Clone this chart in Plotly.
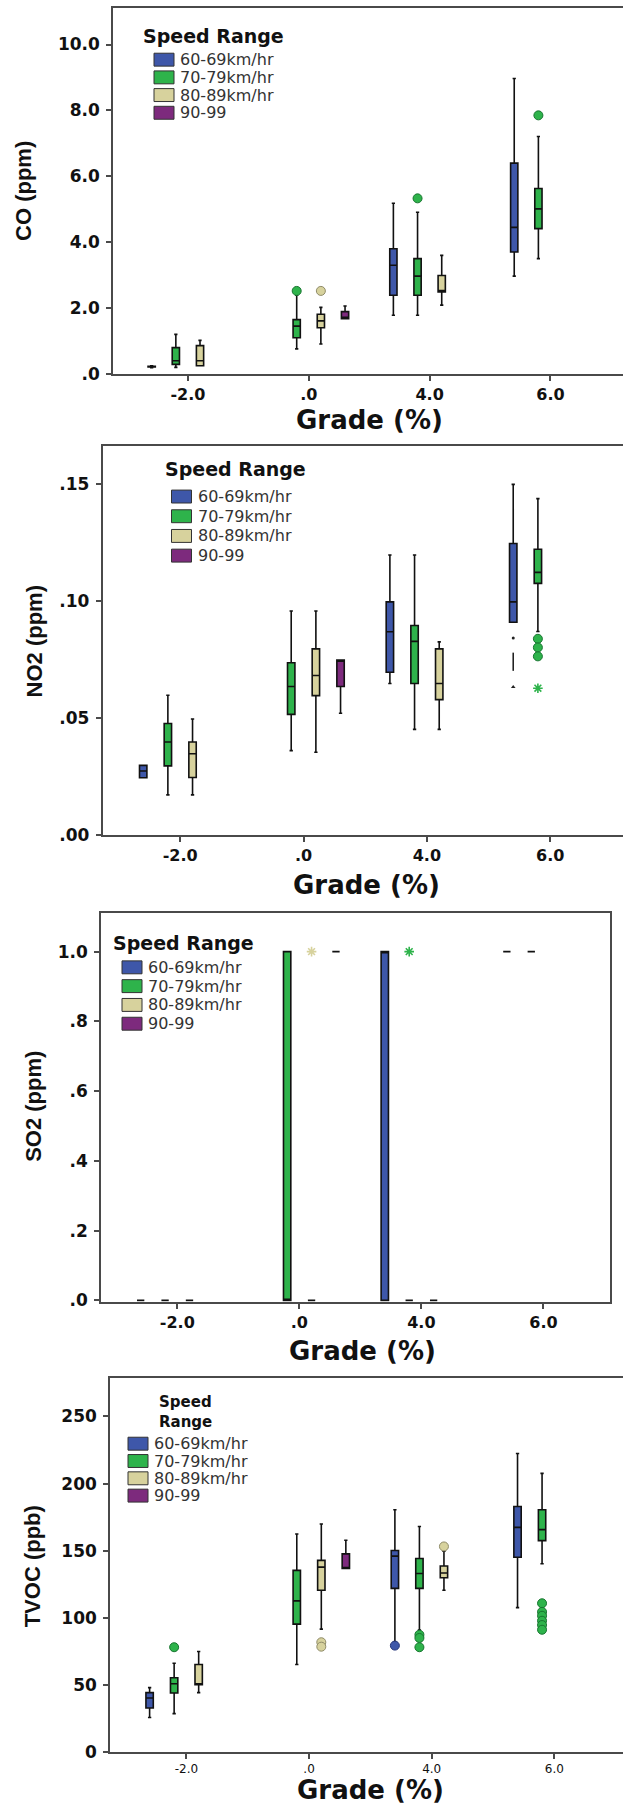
import plotly.graph_objects as go

# ---------------- data ----------------
grades = ["-2.0", ".0", "4.0", "6.0"]
speeds = ["60-69km/hr", "70-79km/hr", "80-89km/hr", "90-99"]
N = None

# rows = speed range (60-69, 70-79, 80-89, 90-99), columns = grade (-2, 0, 4, 6)
co_lo  = [[0.19, N, 1.78, 2.97], [0.20, 0.76, 1.78, 3.50], [0.25, 0.91, 2.09, N], [N, 1.68, N, N]]
co_q1  = [[0.21, N, 2.39, 3.70], [0.29, 1.10, 2.39, 4.41], [0.25, 1.40, 2.49, N], [N, 1.68, N, N]]
co_med = [[0.22, N, 3.30, 4.45], [0.40, 1.45, 2.97, 5.01], [0.40, 1.61, 2.53, N], [N, 1.72, N, N]]
co_q3  = [[0.23, N, 3.80, 6.40], [0.80, 1.65, 3.50, 5.63], [0.86, 1.81, 2.99, N], [N, 1.89, N, N]]
co_hi  = [[0.25, N, 5.18, 8.97], [1.20, 2.39, 4.91, 7.21], [1.02, 2.02, 3.60, N], [N, 2.06, N, N]]
co_out = [(1, 1, 2.52, "o"), (2, 1, 2.52, "o"), (1, 2, 5.33, "o"), (1, 3, 7.85, "o")]

no2_lo  = [[0.0246, N, 0.0649, 0.0911], [0.0173, 0.0362, 0.0453, 0.0871], [0.0173, 0.0355, 0.0453, N], [N, 0.0522, N, N]]
no2_q1  = [[0.0246, N, 0.0697, 0.0911], [0.0297, 0.0517, 0.0649, 0.1077], [0.0247, 0.0597, 0.0580, N], [N, 0.0636, N, N]]
no2_med = [[0.0275, N, 0.0870, 0.0998], [0.0399, 0.0636, 0.0829, 0.1124], [0.0349, 0.0683, 0.0649, N], [N, 0.0749, N, N]]
no2_q3  = [[0.0299, N, 0.0998, 0.1247], [0.0478, 0.0738, 0.0897, 0.1223], [0.0399, 0.0797, 0.0797, N], [N, 0.0749, N, N]]
no2_hi  = [[0.0299, N, 0.1198, 0.1500], [0.0599, 0.0959, 0.1198, 0.1439], [0.0497, 0.0959, 0.0827, N], [N, 0.0749, N, N]]
no2_out = [(1, 3, 0.0840, "o"), (1, 3, 0.0803, "o"), (1, 3, 0.0765, "o"), (1, 3, 0.0629, "star"),
           (0, 3, 0.0844, "dot"), (0, 3, 0.0742, "bar"), (0, 3, 0.0634, "tri")]

so2_lo  = [[0, N, 0, 1], [0, 0, 0, 1], [0, 0, 0, N], [N, 1, N, N]]
so2_q1  = [[0, N, 0, 1], [0, 0, 0, 1], [0, 0, 0, N], [N, 1, N, N]]
so2_med = [[0, N, 1, 1], [0, 0, 0, 1], [0, 0, 0, N], [N, 1, N, N]]
so2_q3  = [[0, N, 1, 1], [0, 1, 0, 1], [0, 0, 0, N], [N, 1, N, N]]
so2_hi  = [[0, N, 1, 1], [0, 1, 0, 1], [0, 0, 0, N], [N, 1, N, N]]
so2_out = [(2, 1, 1.0, "star"), (1, 2, 1.0, "star")]

tvoc_lo  = [[25.9, N, 82.0, 107.7], [28.8, 65.3, 91.0, 140.3], [44.4, 91.7, 120.6, N], [N, 136.8, N, N]]
tvoc_q1  = [[33.0, N, 122.0, 145.2], [44.1, 95.4, 122.0, 157.5], [50.3, 120.6, 129.9, N], [N, 136.8, N, N]]
tvoc_med = [[40.4, N, 146.0, 167.4], [51.0, 112.7, 133.1, 165.7], [51.0, 137.8, 133.4, N], [N, 137.3, N, N]]
tvoc_q3  = [[44.4, N, 150.2, 182.9], [55.5, 135.4, 144.2, 180.5], [65.3, 142.8, 138.6, N], [N, 147.7, N, N]]
tvoc_hi  = [[48.1, N, 180.5, 222.4], [66.3, 162.5, 168.1, 207.6], [75.0, 169.9, 149.7, N], [N, 157.8, N, N]]
tvoc_out = [(1, 0, 78.2, "o"), (2, 1, 81.9, "o"), (2, 1, 78.6, "o"), (0, 2, 79.4, "o"),
            (1, 2, 87.5, "o"), (1, 2, 85.1, "o"), (1, 2, 78.2, "o"), (2, 2, 153.2, "o"),
            (1, 3, 110.9, "o"), (1, 3, 104.5, "o"), (1, 3, 101.6, "o"), (1, 3, 97.9, "o"),
            (1, 3, 94.7, "o"), (1, 3, 91.2, "o")]

co_ticks = [0, 2, 4, 6, 8, 10]
co_ticktext = [".0", "2.0", "4.0", "6.0", "8.0", "10.0"]
no2_ticks = [0, 0.05, 0.10, 0.15]
no2_ticktext = [".00", ".05", ".10", ".15"]
so2_ticks = [0, 0.2, 0.4, 0.6, 0.8, 1.0]
so2_ticktext = [".0", ".2", ".4", ".6", ".8", "1.0"]
tvoc_ticks = [0, 50, 100, 150, 200, 250]
tvoc_ticktext = ["0", "50", "100", "150", "200", "250"]

# ---------------- styling ----------------
W, H = 623, 1814
fills = ["#3E57A9", "#2EB34B", "#D7D29D", "#7D2A7D"]
edge = ["#24357a", "#187530", "#8f8b68", "#4d1a4d"]
AX = "#4a4a4a"
FONT = "DejaVu Sans"
TFONT = "Liberation Sans"
SLOT = 0.2     # spacing of the speed-range slots inside a grade group
BOXW = 0.06


def px(x):
    return x / W


def py(y):
    return 1 - y / H


panels = [
    dict(title="CO (ppm)", lo=co_lo, q1=co_q1, med=co_med, q3=co_q3, hi=co_hi, out=co_out,
         ticks=co_ticks, ticktext=co_ticktext,
         box=(113, 623, 8, 376), xr=[-0.62, 3.60], yr=[0, 11.11], mirror_y=False,
         ytitle=(24, 192), xtitle=(369, 422), leg_title=("Speed Range", 141, 36, 19),
         leg=(154, 60, 17.8), xfont=16),
    dict(title="NO2 (ppm)", lo=no2_lo, q1=no2_q1, med=no2_med, q3=no2_q3, hi=no2_hi, out=no2_out,
         ticks=no2_ticks, ticktext=no2_ticktext,
         box=(102.5, 623, 448, 840), xr=[-0.63, 3.59], yr=[0, 0.1666], mirror_y=False,
         ytitle=(34, 645), xtitle=(366, 890), leg_title=("Speed Range", 163, 472, 19),
         leg=(171.5, 499.3, 19.8), xfont=16),
    dict(title="SO2 (ppm)", lo=so2_lo, q1=so2_q1, med=so2_med, q3=so2_q3, hi=so2_hi, out=so2_out,
         ticks=so2_ticks, ticktext=so2_ticktext,
         box=(101, 610, 918, 1309), xr=[-0.625, 3.545], yr=[-0.004, 1.111], mirror_y=True,
         ytitle=(34, 1113), xtitle=(362, 1358), leg_title=("Speed Range", 110.5, 948, 19),
         leg=(122, 972.7, 18.9), xfont=16),
    dict(title="TVOC (ppb)", lo=tvoc_lo, q1=tvoc_q1, med=tvoc_med, q3=tvoc_q3, hi=tvoc_hi, out=tvoc_out,
         ticks=tvoc_ticks, ticktext=tvoc_ticktext,
         box=(110, 623, 1386, 1762), xr=[-0.623, 3.56], yr=[0, 278.3], mirror_y=False,
         ytitle=(32, 1575), xtitle=(370, 1800), leg_title=("Speed<br>Range", 157, 1420, 15),
         leg=(128, 1451.7, 17.4), xfont=12),
]

fig = go.Figure()
annotations = []
shapes = []
layout = dict(width=W, height=H, margin=dict(l=0, r=0, t=0, b=0), showlegend=False,
              paper_bgcolor="white", plot_bgcolor="white", boxmode="overlay")


def pos(s, g):
    return g + (s - 1.5) * SLOT


for p_i, P in enumerate(panels):
    k = "" if p_i == 0 else str(p_i + 1)
    xref, yref = "x" + k, "y" + k
    for s in range(4):
        xs, lo, q1, med, q3, hi = [], [], [], [], [], []
        for g in range(4):
            if P["med"][s][g] is None:
                continue
            xs.append(pos(s, g))
            lo.append(P["lo"][s][g]); q1.append(P["q1"][s][g]); med.append(P["med"][s][g])
            q3.append(P["q3"][s][g]); hi.append(P["hi"][s][g])
        fig.add_trace(go.Box(
            x=xs, q1=q1, median=med, q3=q3, lowerfence=lo, upperfence=hi,
            name=speeds[s], width=BOXW, whiskerwidth=0.45, boxpoints=False,
            fillcolor=fills[s], line=dict(color="#111111", width=1.6),
            xaxis=xref, yaxis=yref, hoverinfo="skip"))
    # outliers / extremes
    for kind in ["o", "star", "dot", "bar", "tri"]:
        for s in range(4):
            pts = [(g, v) for (ss, g, v, kk) in P["out"] if ss == s and kk == kind]
            if not pts:
                continue
            if kind == "o":
                mk = dict(symbol="circle", size=9, color=fills[s], line=dict(color=edge[s], width=1))
            elif kind == "star":
                mk = dict(symbol="asterisk-open", size=8, color=fills[s], line=dict(color=fills[s], width=1.6))
            elif kind == "dot":
                mk = dict(symbol="circle", size=3, color="#222222", line=dict(width=0))
            elif kind == "bar":
                mk = dict(symbol="line-ns-open", size=13, color="#222222", line=dict(color="#222222", width=1.6))
            else:
                mk = dict(symbol="triangle-up", size=4, color="#222222", line=dict(width=0))
            fig.add_trace(go.Scatter(
                x=[pos(s, g) for g, v in pts], y=[v for g, v in pts], mode="markers",
                marker=mk, xaxis=xref, yaxis=yref, hoverinfo="skip", cliponaxis=False))

    l, r, t, b = P["box"]
    layout["xaxis" + k] = dict(
        domain=[px(l), px(r)], range=P["xr"], anchor=yref,
        tickmode="array", tickvals=[0, 1, 2, 3], ticktext=grades,
        showline=True, linecolor=AX, linewidth=1.5, mirror=True,
        ticks="outside", ticklen=5, tickwidth=1.5, tickcolor=AX,
        showgrid=False, zeroline=False,
        tickfont=dict(family=FONT, size=P["xfont"], color="#111111",
                      weight="bold" if P["xfont"] > 12 else "normal"))
    layout["yaxis" + k] = dict(
        domain=[py(b), py(t)], range=P["yr"], anchor=xref,
        tickmode="array", tickvals=P["ticks"], ticktext=P["ticktext"],
        showline=True, linecolor=AX, linewidth=1.5, mirror=P["mirror_y"],
        ticks="outside", ticklen=5, tickwidth=1.5, tickcolor=AX,
        showgrid=False, zeroline=False, ticklabelstandoff=3,
        tickfont=dict(family=FONT, size=17, color="#111111", weight="bold"))

    # legend (swatches + labels)
    sw_left, y0, step = P["leg"]
    for s in range(4):
        cy = y0 + s * step
        shapes.append(dict(type="rect", xref="paper", yref="paper",
                           x0=px(sw_left), x1=px(sw_left + 20), y0=py(cy + 6.5), y1=py(cy - 6.5),
                           fillcolor=fills[s], line=dict(color="#333333", width=1)))
        annotations.append(dict(text=speeds[s], x=px(sw_left + 24), y=py(cy), xref="paper", yref="paper",
                                showarrow=False, xanchor="left", yanchor="middle",
                                font=dict(family=FONT, size=16, color="#333333")))
    ttext, tx, ty, tsize = P["leg_title"]
    annotations.append(dict(text=ttext, x=px(tx), y=py(ty), xref="paper", yref="paper",
                            showarrow=False, xanchor="left", yanchor="middle", align="left",
                            font=dict(family=FONT, size=tsize, color="#111111", weight="bold")))

    # axis titles
    xt, yt = P["xtitle"]
    annotations.append(dict(text="Grade (%)", x=px(xt), y=py(yt), xref="paper", yref="paper",
                            showarrow=False, xanchor="center", yanchor="middle",
                            font=dict(family=FONT, size=26, color="#111111", weight="bold")))
    yx, yy = P["ytitle"]
    annotations.append(dict(text=P["title"], x=px(yx), y=py(yy), xref="paper", yref="paper",
                            showarrow=False, xanchor="center", yanchor="middle", textangle=-90,
                            font=dict(family=TFONT, size=22, color="#111111", weight="bold")))

layout["annotations"] = annotations
layout["shapes"] = shapes
fig.update_layout(**layout)
fig.write_html("out.html")
